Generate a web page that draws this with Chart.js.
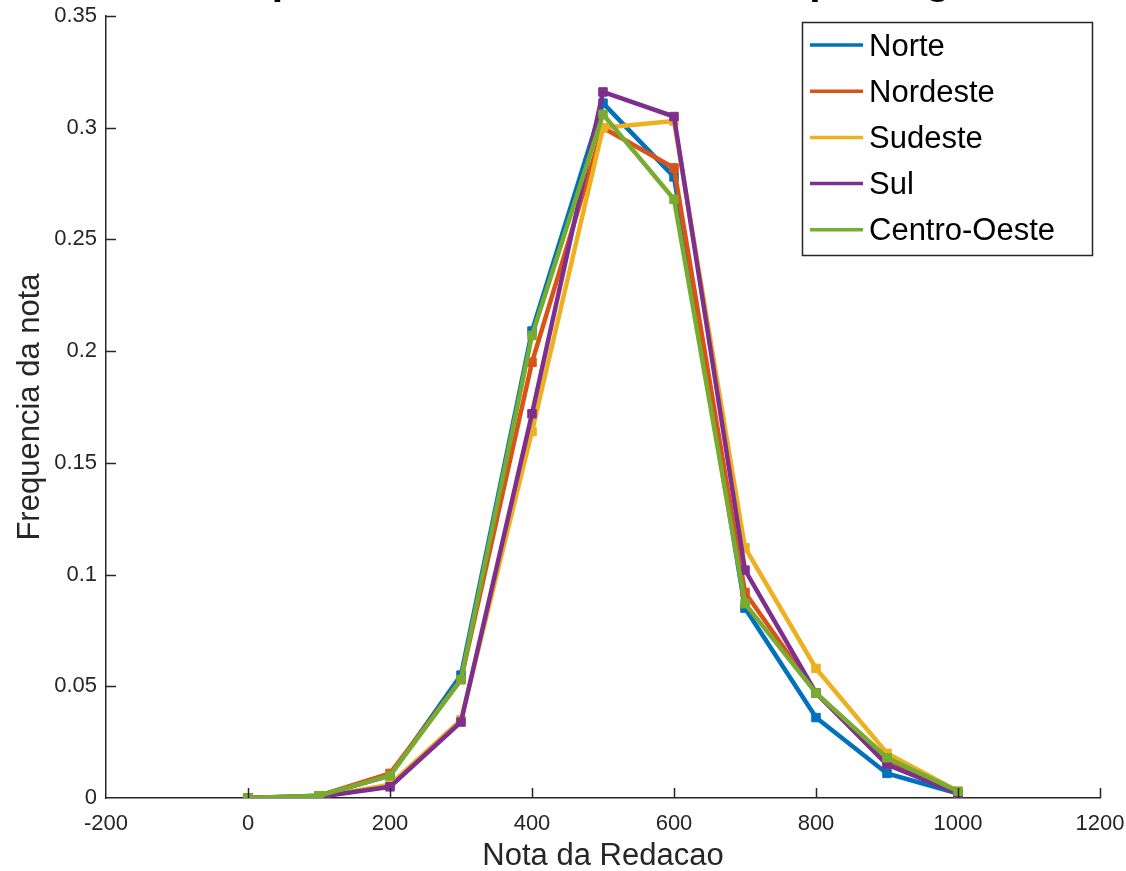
<!DOCTYPE html>
<html>
<head>
<meta charset="utf-8">
<script src="https://cdn.jsdelivr.net/npm/chart.js@4.4.1/dist/chart.umd.min.js"></script>
<style>
  html, body { margin: 0; padding: 0; background: #fff; overflow: hidden; }
  #wrap { position: relative; width: 1126px; height: 871px; overflow: hidden; }
  #c { position: absolute; left: 0; top: 0; }
  #title { position: absolute; left: 100px; width: 1004px; top: -43px; height: 48px; line-height: 48px;
           text-align: center; font: bold 41px "Liberation Sans", Arial, sans-serif; color: #000; white-space: nowrap; }
</style>
</head>
<body>
<div id="wrap">
  <canvas id="c" width="1126" height="871"></canvas>
  <div id="title">Frequencia da nota de redacao por regiao</div>
</div>
<script>
const notas = [0, 100, 200, 300, 400, 500, 600, 700, 800, 900, 1000];
const norte       = [0, 0.001, 0.010, 0.055, 0.209, 0.311, 0.278, 0.085, 0.036, 0.011, 0.002];
const nordeste    = [0, 0.001, 0.011, 0.053, 0.195, 0.300, 0.282, 0.092, 0.047, 0.016, 0.002];
const sudeste     = [0, 0.0005, 0.006, 0.035, 0.164, 0.300, 0.303, 0.112, 0.058, 0.020, 0.003];
const sul         = [0, 0.0005, 0.005, 0.034, 0.172, 0.316, 0.305, 0.102, 0.047, 0.015, 0.002];
const centroOeste = [0, 0.001, 0.010, 0.053, 0.207, 0.306, 0.268, 0.087, 0.047, 0.018, 0.003];
const seriesNames = ["Norte", "Nordeste", "Sudeste", "Sul", "Centro-Oeste"];
const seriesValues = [norte, nordeste, sudeste, sul, centroOeste];
const seriesColors = ["#0072BD", "#D95319", "#EDB120", "#7E2F8E", "#77AC30"];
const xTicks = [-200, 0, 200, 400, 600, 800, 1000, 1200];
const yTicks = [0, 0.05, 0.1, 0.15, 0.2, 0.25, 0.3, 0.35];

const FONT = '"Liberation Sans", Arial, sans-serif';
const AXIS = '#262626';

const datasets = seriesNames.map((name, i) => ({
  label: name,
  data: notas.map((x, j) => ({ x: x, y: seriesValues[i][j] })),
  borderColor: seriesColors[i],
  backgroundColor: seriesColors[i],
  borderWidth: 4.5,
  pointStyle: 'rect',
  pointRadius: 6,
  pointBorderWidth: 1,
  pointBackgroundColor: seriesColors[i],
  pointBorderColor: seriesColors[i],
  tension: 0,
  order: seriesNames.length - i
}));

const innerTicks = {
  id: 'innerTicks',
  afterDatasetsDraw(chart) {
    const ctx = chart.ctx, a = chart.chartArea;
    const xs = chart.scales.x, ys = chart.scales.y;
    ctx.save();
    ctx.strokeStyle = AXIS; ctx.lineWidth = 1.5;
    ctx.beginPath();
    xTicks.forEach(v => {
      if (v === xTicks[0]) return;
      const px = Math.round(xs.getPixelForValue(v)) + 0.5;
      ctx.moveTo(px, a.bottom); ctx.lineTo(px, a.bottom - 10);
    });
    yTicks.forEach(v => {
      if (v === yTicks[0]) return;
      const py = Math.round(ys.getPixelForValue(v)) + 0.5;
      ctx.moveTo(a.left, py); ctx.lineTo(a.left + 10, py);
    });
    ctx.stroke();
    ctx.restore();
  }
};

const boxLegend = {
  id: 'boxLegend',
  afterDraw(chart) {
    const ctx = chart.ctx;
    const x0 = 802, y0 = 22, w = 290, h = 233;
    ctx.save();
    ctx.fillStyle = '#fff';
    ctx.fillRect(x0, y0, w, h);
    ctx.strokeStyle = AXIS; ctx.lineWidth = 1.5;
    ctx.strokeRect(x0 + 0.5, y0 + 0.5, w, h);
    ctx.font = '31px ' + FONT;
    ctx.textBaseline = 'middle';
    ctx.fillStyle = '#000';
    chart.data.datasets.forEach((ds, i) => {
      const y = 45 + i * 46.2;
      ctx.strokeStyle = ds.borderColor; ctx.lineWidth = 3.5;
      ctx.beginPath(); ctx.moveTo(810, y); ctx.lineTo(863, y); ctx.stroke();
      ctx.fillText(ds.label, 869, y + 2);
    });
    ctx.restore();
  }
};

new Chart(document.getElementById('c'), {
  type: 'line',
  data: { datasets: datasets },
  options: {
    responsive: false,
    devicePixelRatio: 1,
    animation: false,
    layout: { padding: { top: 16, right: 26, left: 0, bottom: 0 } },
    plugins: { legend: { display: false }, tooltip: { enabled: false }, title: { display: false } },
    scales: {
      x: {
        type: 'linear', min: -200, max: 1200,
        afterBuildTicks: s => { s.ticks = xTicks.map(v => ({ value: v })); },
        afterFit: s => { s.height = 73; s.paddingLeft = 0; s.paddingRight = 0; },
        grid: { display: false, drawTicks: false },
        border: { display: true, color: AXIS, width: 1.5 },
        ticks: { color: '#262626', font: { family: FONT, size: 22 }, padding: 13, maxRotation: 0,
                 callback: v => String(v) },
        title: { display: true, text: 'Nota da Redacao', color: '#262626',
                 font: { family: FONT, size: 31 }, padding: { top: 0, bottom: -4 } }
      },
      y: {
        type: 'linear', min: 0, max: 0.35,
        afterBuildTicks: s => { s.ticks = yTicks.map(v => ({ value: v })); },
        afterFit: s => { s.width = 106; s.paddingTop = 0; s.paddingBottom = 0; },
        grid: { display: false, drawTicks: false },
        border: { display: true, color: AXIS, width: 1.5 },
        ticks: { color: '#262626', font: { family: FONT, size: 22 }, padding: 9,
                 callback: v => String(Math.round(v * 100) / 100) },
        title: { display: true, text: 'Frequencia da nota', color: '#262626',
                 font: { family: FONT, size: 31 }, padding: { top: 12, bottom: 0 } }
      }
    }
  },
  plugins: [innerTicks, boxLegend]
});
</script>
</body>
</html>
